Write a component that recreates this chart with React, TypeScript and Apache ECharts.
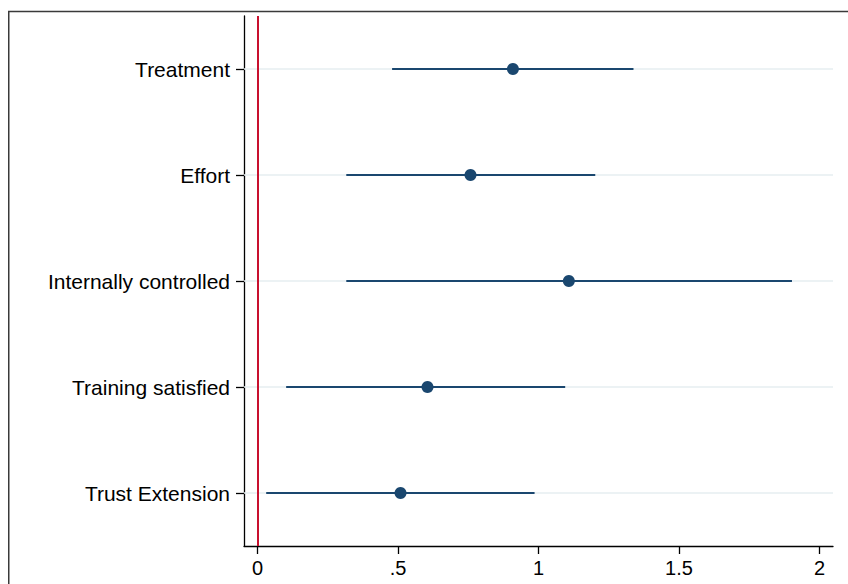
import React, { useEffect, useRef } from "react";
import * as echarts from "echarts";

const categories = ["Treatment", "Effort", "Internally controlled", "Training satisfied", "Trust Extension"];
const estimates = [0.909, 0.758, 1.108, 0.605, 0.509];
const lowerCI = [0.479, 0.316, 0.316, 0.102, 0.031];
const upperCI = [1.338, 1.202, 1.902, 1.095, 0.986];
const xTickValues = [0, 0.5, 1, 1.5, 2];
const xTickLabels = ["0", ".5", "1", "1.5", "2"];

const NAVY = "#1a476f";
const FONT = "'Liberation Sans', Arial, Helvetica, sans-serif";

export default function App() {
  const ref = useRef<HTMLDivElement>(null);
  useEffect(() => {
    if (!ref.current) return;
    document.documentElement.style.overflow = "hidden";
    document.body.style.overflow = "hidden";
    const chart = echarts.init(ref.current, null, { renderer: "svg" });
    const ciData = categories.map((c, i) => [lowerCI[i], upperCI[i], i]);
    const pointData = categories.map((c, i) => [estimates[i], i]);
    const gridData = categories.map((c, i) => [0, i]);
    chart.setOption({
      animation: false,
      backgroundColor: "#ffffff",
      graphic: [
        {
          type: "line",
          shape: { x1: 8, y1: 11.5, x2: 848, y2: 11.5 },
          style: { stroke: "#3a3a3a", lineWidth: 1.5 },
          silent: true,
          z: 0,
        },
        {
          type: "line",
          shape: { x1: 8.75, y1: 11, x2: 8.75, y2: 584 },
          style: { stroke: "#3a3a3a", lineWidth: 1.5 },
          silent: true,
          z: 0,
        },
      ],
      grid: { left: 244, right: 15, top: 16, bottom: 38 },
      xAxis: {
        type: "value",
        min: -0.048,
        max: 2.048,
        splitLine: { show: false },
        axisLine: { show: true, onZero: false, lineStyle: { color: "#000", width: 1.3 } },
        axisTick: { show: true, length: 8, customValues: xTickValues, lineStyle: { color: "#000", width: 1.3 } },
        axisLabel: {
          show: true,
          customValues: xTickValues,
          margin: 12,
          fontSize: 20,
          color: "#000",
          fontFamily: FONT,
          formatter: (v: number) => {
            const k = xTickValues.findIndex((t) => Math.abs(t - v) < 1e-9);
            return k >= 0 ? xTickLabels[k] : "";
          },
        },
      },
      yAxis: {
        type: "category",
        data: categories,
        inverse: true,
        axisLine: { show: true, onZero: false, lineStyle: { color: "#000", width: 1.3 } },
        axisTick: { show: true, alignWithLabel: true, length: 8, lineStyle: { color: "#000", width: 1.3 } },
        axisLabel: { show: true, margin: 14, fontSize: 21, color: "#000", fontFamily: FONT },
        splitLine: { show: false },
      },
      series: [
        {
          type: "custom",
          silent: true,
          z: 1,
          data: gridData,
          encode: { x: 0, y: 1 },
          renderItem: (params: any, api: any) => {
            const cs = params.coordSys;
            const p = api.coord([0, api.value(1)]);
            return {
              type: "line",
              shape: { x1: cs.x, y1: p[1], x2: cs.x + cs.width, y2: p[1] },
              style: { stroke: "#e6eef1", lineWidth: 1.6 },
            };
          },
        },
        {
          type: "scatter",
          data: [],
          z: 2,
          markLine: {
            silent: true,
            symbol: "none",
            label: { show: false },
            lineStyle: { color: "#c8102e", width: 2, type: "solid" },
            data: [{ xAxis: 0 }],
          },
        },
        {
          type: "custom",
          silent: true,
          z: 3,
          data: ciData,
          encode: { x: [0, 1], y: 2 },
          renderItem: (params: any, api: any) => {
            const a = api.coord([api.value(0), api.value(2)]);
            const b = api.coord([api.value(1), api.value(2)]);
            return {
              type: "line",
              shape: { x1: a[0], y1: a[1], x2: b[0], y2: b[1] },
              style: { stroke: NAVY, lineWidth: 2.2 },
            };
          },
        },
        {
          type: "scatter",
          z: 4,
          data: pointData,
          symbol: "circle",
          symbolSize: 12,
          itemStyle: { color: NAVY, opacity: 1 },
        },
      ],
    });
    return () => chart.dispose();
  }, []);
  return (
    <div
      ref={ref}
      style={{ position: "absolute", left: 0, top: 0, width: 848, height: 584 }}
    />
  );
}
